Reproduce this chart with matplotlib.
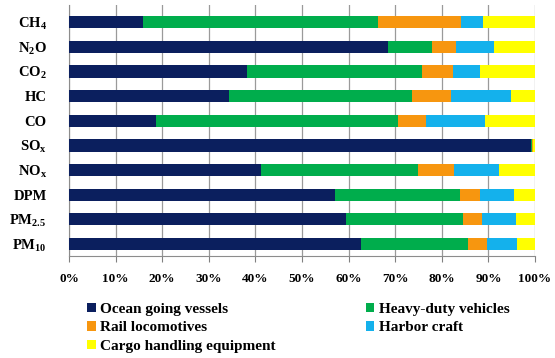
import numpy as np
import matplotlib
matplotlib.use("Agg")
import matplotlib.pyplot as plt

# Share of emissions by source (percent of total), top row first
pollutants = [r"CH$_4$", r"N$_2$O", r"CO$_2$", "HC", "CO", r"SO$_x$",
              r"NO$_x$", "DPM", r"PM$_{2.5}$", r"PM$_{10}$"]
ocean_going = [15.9, 68.4, 38.3, 34.4, 18.6, 99.2, 41.2, 57.0, 59.4, 62.6]
heavy_duty = [50.3, 9.6, 37.4, 39.1, 51.9, 0.2, 33.6, 26.8, 25.2, 23.1]
rail = [17.9, 5.1, 6.6, 8.5, 6.0, 0.1, 7.9, 4.3, 4.1, 4.0]
harbor = [4.8, 8.0, 5.8, 12.9, 12.8, 0.1, 9.6, 7.4, 7.2, 6.4]
cargo = [11.1, 8.9, 11.9, 5.1, 10.7, 0.4, 7.7, 4.5, 4.1, 3.9]

series = [
    ("Ocean going vessels", ocean_going, "#0b1f5e"),
    ("Heavy-duty vehicles", heavy_duty, "#00ad4c"),
    ("Rail locomotives", rail, "#f7960f"),
    ("Harbor craft", harbor, "#14b1ec"),
    ("Cargo handling equipment", cargo, "#ffff00"),
]

plt.rcParams["font.family"] = "Liberation Serif"
plt.rcParams["font.weight"] = "bold"
plt.rcParams["mathtext.fontset"] = "custom"
plt.rcParams["mathtext.rm"] = "Liberation Serif:bold"
plt.rcParams["mathtext.default"] = "rm"

fig = plt.figure(figsize=(5.55, 3.58), dpi=100)
ax = fig.add_axes([0.1243, 0.284, 0.8397, 0.702])

y = np.arange(len(pollutants))[::-1]
left = np.zeros(len(pollutants))
handles = {}
for name, vals, color in series:
    vals = np.array(vals)
    h = ax.barh(y, vals, left=left, height=0.5, color=color, zorder=3)
    handles[name] = h
    left += vals

ax.set_xlim(0, 100)
ax.set_ylim(-0.5, 9.69)
ax.set_yticks(y)
ax.set_yticklabels(pollutants, fontsize=10.5)
ax.tick_params(axis="y", length=0, pad=16)
ax.set_xticks(np.arange(0, 101, 10))
ax.set_xticklabels([f"{v}%" for v in range(0, 101, 10)], fontsize=9.5)
ax.tick_params(axis="x", length=4, color="#808080", pad=8)
ax.grid(axis="x", color="#9a9a9a", linewidth=0.9, zorder=0)

for side in ["top", "right"]:
    ax.spines[side].set_visible(False)
for side in ["left", "bottom"]:
    ax.spines[side].set_color("#8c8c8c")

order = ["Ocean going vessels", "Rail locomotives", "Cargo handling equipment",
         "Heavy-duty vehicles", "Harbor craft"]
fig.legend([handles[n] for n in order], order, ncol=2,
           loc="upper left", bbox_to_anchor=(0.157, 0.155),
           frameon=False, fontsize=11, borderpad=0, borderaxespad=0,
           handlelength=0.55, handleheight=0.55, handletextpad=0.3,
           labelspacing=0.38, columnspacing=5.9)

fig.savefig("out.png", dpi=100)
